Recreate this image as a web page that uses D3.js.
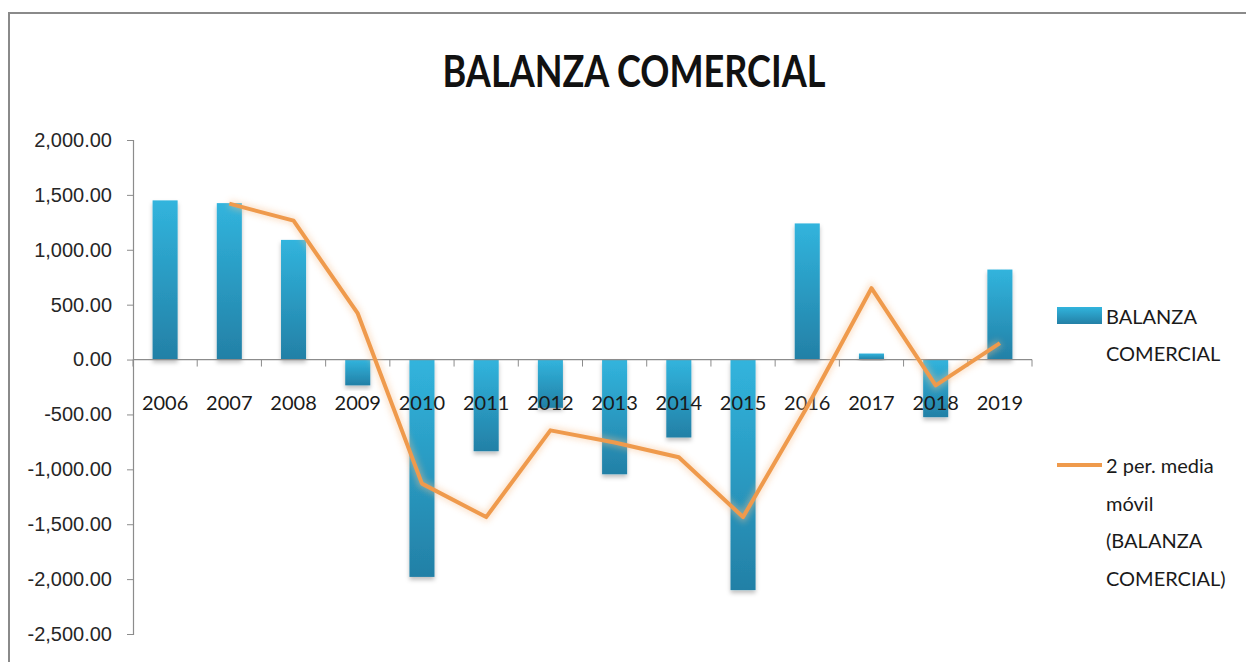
<!DOCTYPE html>
<html>
<head>
<meta charset="utf-8">
<script src="https://cdn.jsdelivr.net/npm/d3@7"></script>
<style>
  body { margin: 0; background: #fff; }
  svg { display: block; font-family: Lato, "Open Sans", sans-serif; }
</style>
</head>
<body>
<div id="chart"></div>
<script>
const years = ["2006", "2007", "2008", "2009", "2010", "2011", "2012", "2013", "2014", "2015", "2016", "2017", "2018", "2019"];
const balanza = [1450, 1425, 1090, -235, -1980, -835, -440, -1045, -710, -2100, 1240, 55, -525, 820];
const mediaMovil = [null, 1420, 1265, 420, -1130, -1435, -645, -755, -890, -1435, -430, 650, -235, 150];
const yTicks = [2000, 1500, 1000, 500, 0, -500, -1000, -1500, -2000, -2500];

const width = 1246, height = 662;
const plotLeft = 133, plotRight = 1032, plotTop = 140, plotBottom = 634;

const svg = d3.select('#chart')
    .append('svg')
    .attr('width', width)
    .attr('height', height);

const defs = svg.append('defs');
const grad = defs.append('linearGradient')
    .attr('id', 'barGrad')
    .attr('x1', 0).attr('y1', 0).attr('x2', 0).attr('y2', 1);
grad.append('stop').attr('offset', '0%').attr('stop-color', '#31b4dd');
grad.append('stop').attr('offset', '100%').attr('stop-color', '#2380a6');

const shadow = defs.append('filter').attr('id', 'shadow')
    .attr('x', '-20%').attr('y', '-20%').attr('width', '140%').attr('height', '140%');
shadow.append('feDropShadow')
    .attr('dx', 0).attr('dy', 3).attr('stdDeviation', 2)
    .attr('flood-color', '#000').attr('flood-opacity', 0.25);

const glow = defs.append('filter').attr('id', 'glow')
    .attr('x', '-10%').attr('y', '-10%').attr('width', '120%').attr('height', '120%');
glow.append('feGaussianBlur').attr('stdDeviation', 3);

// outer border of the chart area
svg.append('rect')
    .attr('x', 9).attr('y', 13)
    .attr('width', width + 20).attr('height', height + 20)
    .attr('fill', 'none')
    .attr('stroke', '#8a8a8a')
    .attr('stroke-width', 2);

svg.append('text')
    .attr('x', 634)
    .attr('y', 87)
    .attr('text-anchor', 'middle')
    .attr('font-size', 44)
    .attr('font-weight', 'bold')
    .attr('textLength', 383)
    .attr('lengthAdjust', 'spacingAndGlyphs')
    .attr('fill', '#111')
    .text('BALANZA COMERCIAL');

const xScale = d3.scaleBand()
    .domain(years)
    .range([plotLeft, plotRight])
    .paddingInner(0.61)
    .paddingOuter(0.305);

const yScale = d3.scaleLinear()
    .domain([-2500, 2000])
    .range([plotBottom, plotTop]);

// plain hyphen for negatives, like the spreadsheet
const locale = d3.formatLocale({ decimal: '.', thousands: ',', grouping: [3], currency: ['$', ''], minus: '-' });

// y axis
const yAxis = d3.axisLeft(yScale)
    .tickValues(yTicks)
    .tickFormat(locale.format(',.2f'))
    .tickSize(6)
    .tickPadding(15);

const gy = svg.append('g')
    .attr('transform', `translate(${plotLeft},0)`)
    .call(yAxis);
gy.select('.domain').attr('stroke', '#8c8c8c').attr('stroke-width', 1.2);
gy.selectAll('.tick line').attr('stroke', '#8c8c8c');
gy.selectAll('.tick text')
    .attr('font-size', 20)
    .attr('fill', '#262626');

// bars
svg.append('g')
    .selectAll('rect')
    .data(balanza)
    .enter()
    .append('rect')
    .attr('x', (d, i) => xScale(years[i]))
    .attr('y', d => yScale(Math.max(0, d)))
    .attr('width', xScale.bandwidth())
    .attr('height', d => Math.abs(yScale(d) - yScale(0)))
    .attr('fill', 'url(#barGrad)')
    .attr('filter', 'url(#shadow)');

// x axis at zero
const step = xScale.step();
const boundaries = d3.range(years.length + 1).map(i => plotLeft + i * step);
const gx = svg.append('g');
gx.append('line')
    .attr('x1', plotLeft).attr('x2', plotRight)
    .attr('y1', yScale(0)).attr('y2', yScale(0))
    .attr('stroke', '#8c8c8c').attr('stroke-width', 1.2);
gx.selectAll('line.tick')
    .data(boundaries)
    .enter()
    .append('line')
    .attr('class', 'tick')
    .attr('x1', d => d).attr('x2', d => d)
    .attr('y1', yScale(0)).attr('y2', yScale(0) + 7)
    .attr('stroke', '#8c8c8c');
gx.selectAll('text')
    .data(years)
    .enter()
    .append('text')
    .attr('x', d => xScale(d) + xScale.bandwidth() / 2)
    .attr('y', yScale(0) + 50)
    .attr('text-anchor', 'middle')
    .attr('font-size', 20)
    .attr('fill', '#1a1a1a')
    .text(d => d);

// moving average line
const line = d3.line()
    .defined(d => d !== null)
    .x((d, i) => xScale(years[i]) + xScale.bandwidth() / 2)
    .y(d => yScale(d));

svg.append('path')
    .datum(mediaMovil)
    .attr('d', line)
    .attr('fill', 'none')
    .attr('stroke', '#f7c08e')
    .attr('stroke-width', 8)
    .attr('opacity', 0.45)
    .attr('filter', 'url(#glow)');

svg.append('path')
    .datum(mediaMovil)
    .attr('d', line)
    .attr('fill', 'none')
    .attr('stroke', '#ef9a4c')
    .attr('stroke-width', 4)
    .attr('stroke-linejoin', 'round');

// legend
const legend = svg.append('g');
legend.append('rect')
    .attr('x', 1057).attr('y', 307)
    .attr('width', 45).attr('height', 17)
    .attr('fill', 'url(#barGrad)');
legend.append('text')
    .attr('font-size', 20)
    .attr('fill', '#1a1a1a')
    .selectAll('tspan')
    .data(['BALANZA', 'COMERCIAL'])
    .enter()
    .append('tspan')
    .attr('x', 1106)
    .attr('y', (d, i) => 324 + i * 37)
    .text(d => d);

legend.append('line')
    .attr('x1', 1057).attr('x2', 1102)
    .attr('y1', 465).attr('y2', 465)
    .attr('stroke', '#ef9a4c')
    .attr('stroke-width', 4);
legend.append('text')
    .attr('font-size', 20)
    .attr('fill', '#1a1a1a')
    .selectAll('tspan')
    .data(['2 per. media', 'móvil', '(BALANZA', 'COMERCIAL)'])
    .enter()
    .append('tspan')
    .attr('x', 1106)
    .attr('y', (d, i) => 473 + i * 37.5)
    .text(d => d);
</script>
</body>
</html>
